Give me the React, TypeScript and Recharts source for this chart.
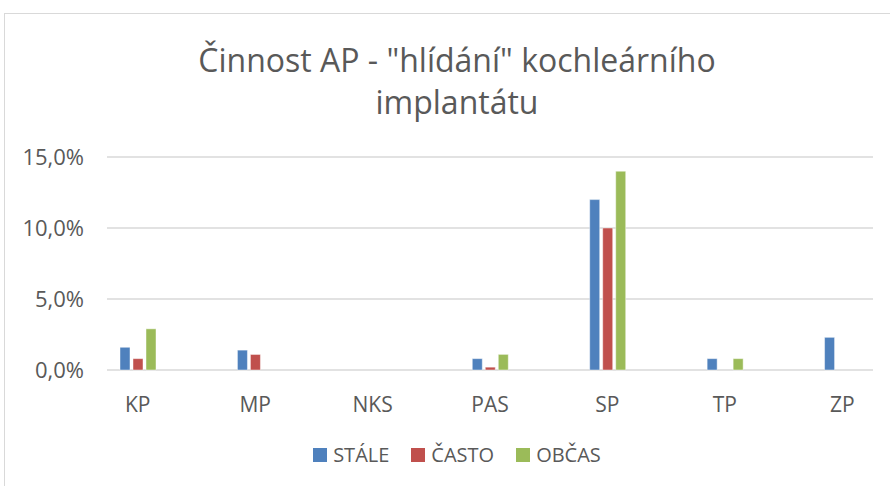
import { BarChart, Bar, XAxis, YAxis, CartesianGrid } from "recharts";

const categories = ["KP", "MP", "NKS", "PAS", "SP", "TP", "ZP"];
const stale = [1.6, 1.4, 0, 0.8, 12.0, 0.8, 2.3];
const casto = [0.8, 1.1, 0, 0.2, 10.0, 0, 0];
const obcas = [2.9, 0, 0, 1.1, 14.0, 0.8, 0];
const yTicks = [0, 5, 10, 15];

const seriesNames = ["STÁLE", "ČASTO", "OBČAS"];
const colors = ["#4F81BD", "#C0504D", "#9BBB59"];
const seriesValues = [stale, casto, obcas];

const data = categories.map((cat, i) => {
  const row: Record<string, string | number> = { cat };
  seriesNames.forEach((name, s) => {
    row[name] = seriesValues[s][i];
  });
  return row;
});

const FONT = "'Open Sans', sans-serif";
const TEXT = "#595959";

const fmt = (v: number) => v.toFixed(1).replace(".", ",") + "%";

export default function App() {
  return (
    <div
      style={{
        position: "absolute",
        left: 0,
        top: 0,
        width: 890,
        height: 486,
        overflow: "hidden",
        background: "#fff",
        fontFamily: FONT,
      }}
    >
      <div
        style={{
          position: "absolute",
          left: 4,
          top: 13,
          width: 920,
          height: 520,
          border: "1.5px solid #d9d9d9",
        }}
      />
      <div
        style={{
          position: "absolute",
          left: 4,
          top: 39,
          width: 906,
          textAlign: "center",
          color: TEXT,
          fontSize: 32,
          lineHeight: "42px",
        }}
      >
        Činnost AP - "hlídání" kochleárního
        <br />
        implantátu
      </div>
      <div style={{ position: "absolute", left: 0, top: 0 }}>
        <BarChart
          width={890}
          height={486}
          data={data}
          margin={{ top: 157, right: 17, left: 0, bottom: 86 }}
          barSize={10}
          barGap={3}
        >
          <CartesianGrid
            vertical={false}
            stroke="#d9d9d9"
            strokeWidth={1.5}
          />
          <XAxis
            dataKey="cat"
            height={30}
            axisLine={false}
            tickLine={false}
            padding={{ left: -28, right: -28 }}
            tickMargin={21}
            tick={{ fill: TEXT, fontSize: 21, fontFamily: FONT }}
          />
          <YAxis
            width={107}
            domain={[0, 15]}
            ticks={yTicks}
            axisLine={false}
            tickLine={false}
            tickMargin={17}
            tickFormatter={fmt}
            tick={{ fill: TEXT, fontSize: 22, fontFamily: FONT }}
          />
          {seriesNames.map((name, s) => (
            <Bar
              key={name}
              dataKey={name}
              fill={colors[s]}
              stroke="rgba(255,255,255,0.45)"
              strokeWidth={1}
              isAnimationActive={false}
            />
          ))}
        </BarChart>
      </div>
      <div
        style={{
          position: "absolute",
          left: 4,
          top: 441,
          width: 906,
          display: "flex",
          justifyContent: "center",
          gap: 22,
          color: TEXT,
          fontSize: 20,
        }}
      >
        {seriesNames.map((name, s) => (
          <div key={name} style={{ display: "flex", alignItems: "center" }}>
            <span
              style={{
                display: "inline-block",
                width: 14,
                height: 14,
                background: colors[s],
                marginRight: 6,
              }}
            />
            <span>{name}</span>
          </div>
        ))}
      </div>
    </div>
  );
}
